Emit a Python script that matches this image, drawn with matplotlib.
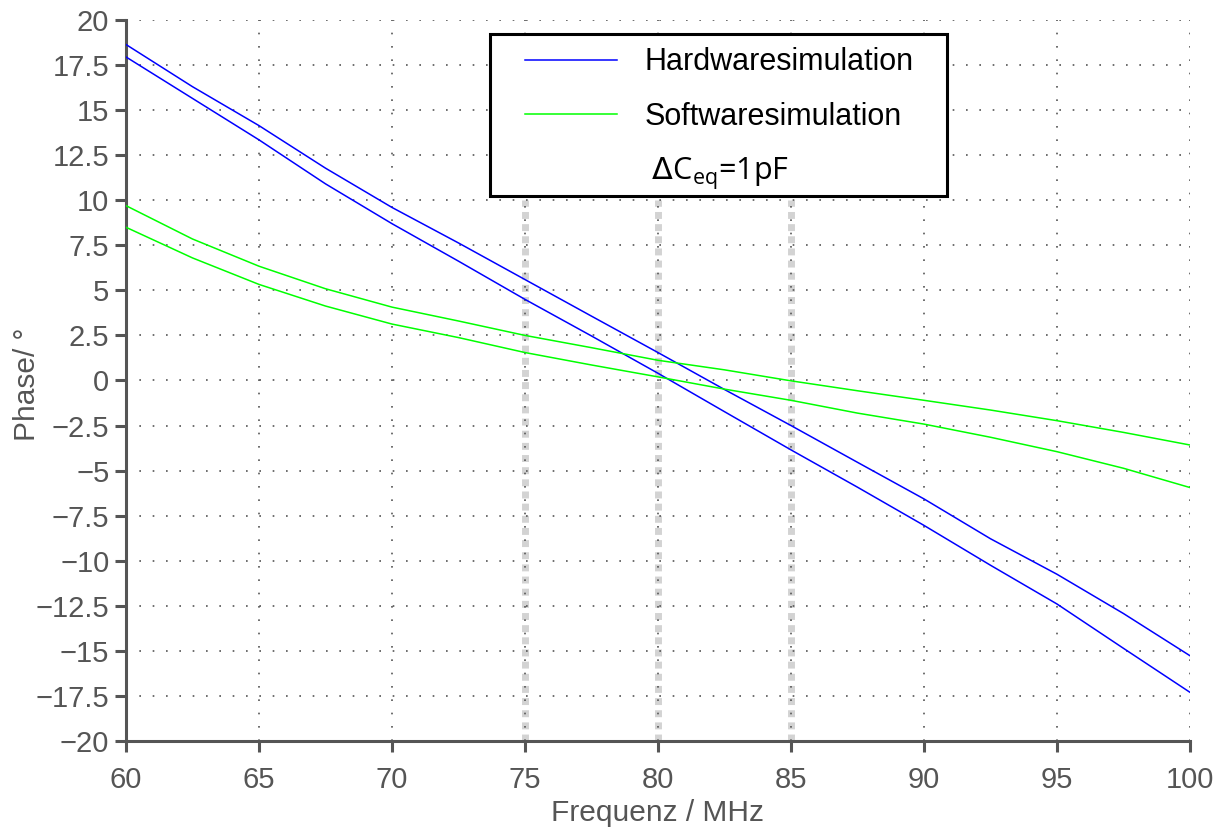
import matplotlib
matplotlib.use('Agg')
import matplotlib.pyplot as plt
from matplotlib.lines import Line2D
from matplotlib.patches import Rectangle
from matplotlib.ticker import FuncFormatter, MultipleLocator

frequenz = [60, 62.5, 65, 67.5, 70, 72.5, 75, 77.5, 80, 82.5, 85, 87.5, 90, 92.5, 95, 97.5, 100]
hw_oben = [18.64, 16.3, 14.14, 11.78, 9.6, 7.63, 5.6, 3.57, 1.55, -0.5, -2.5, -4.54, -6.57, -8.78, -10.75, -12.93, -15.27]
hw_unten = [17.95, 15.65, 13.35, 10.91, 8.7, 6.62, 4.5, 2.47, 0.4, -1.73, -3.85, -5.92, -8.04, -10.25, -12.4, -14.86, -17.3]
sw_oben = [9.7, 7.85, 6.34, 5.09, 4.07, 3.3, 2.5, 1.82, 1.12, 0.59, -0.02, -0.57, -1.1, -1.64, -2.23, -2.88, -3.58]
sw_unten = [8.5, 6.8, 5.33, 4.13, 3.13, 2.38, 1.55, 0.86, 0.2, -0.48, -1.1, -1.81, -2.42, -3.15, -3.95, -4.87, -5.94]
markierungen = [75, 80, 85]

grau = '#555555'
plt.rcParams['font.family'] = ['Liberation Sans', 'DejaVu Sans']

fig = plt.figure(figsize=(12.24, 8.32), dpi=100)
ax = fig.add_axes([0.1029, 0.1094, 0.8693, 0.8666])

# senkrechte Hilfslinien
for f in markierungen:
    ax.plot([f, f], [-20, 10], color='#d3d3d3', lw=5, linestyle=(0, (1, 0.75)), zorder=1)

h1, = ax.plot(frequenz, hw_oben, color='#0000ff', lw=1.1, zorder=3)
ax.plot(frequenz, hw_unten, color='#0000ff', lw=1.1, zorder=3)
h2, = ax.plot(frequenz, sw_oben, color='#00ff00', lw=1.1, zorder=3)
ax.plot(frequenz, sw_unten, color='#00ff00', lw=1.1, zorder=3)

ax.set_xlim(60, 100)
ax.set_ylim(-20, 20)
ax.xaxis.set_major_locator(MultipleLocator(5))
ax.yaxis.set_major_locator(MultipleLocator(2.5))
fmt = FuncFormatter(lambda v, p: ('%g' % v).replace('-', '\u2212'))
ax.yaxis.set_major_formatter(fmt)
ax.xaxis.set_major_formatter(fmt)

ax.grid(True, color=grau, lw=1.2, linestyle=(0, (1, 7)), zorder=0)
for s in ['top', 'right']:
    ax.spines[s].set_visible(False)
for s in ['left', 'bottom']:
    ax.spines[s].set_color(grau)
    ax.spines[s].set_linewidth(2.2)
ax.tick_params(direction='out', length=8, width=2.2, color=grau,
               labelcolor=grau, labelsize=21, pad=4)
ax.tick_params(axis='x', pad=10)

ax.set_xlabel('Frequenz / MHz', fontsize=21.5, color=grau)
ax.set_ylabel('Phase/ °', fontsize=21.5, color=grau)
ax.xaxis.set_label_coords(0.5, -0.08)
ax.yaxis.set_label_coords(-0.08, 0.494)

# Legendenrahmen
ax.add_patch(Rectangle((0.342, 0.756), 0.4296, 0.2245, transform=ax.transAxes,
                       facecolor='white', edgecolor='black', lw=2.2, zorder=4))

leer = Line2D([], [], color='none')
leg = ax.legend([h1, h2, leer],
                ['Hardwaresimulation', 'Softwaresimulation', r' $\Delta$C$_{\mathregular{eq}}$=1pF'],
                loc='upper left', bbox_to_anchor=(0.375, 0.962), fontsize=22,
                handlelength=3.0, handletextpad=0.9, labelspacing=0.8,
                borderpad=0, borderaxespad=0, frameon=False)
leg.set_zorder(5)
leg.get_texts()[2].set_family(['Open Sans', 'DejaVu Sans'])

plt.savefig('out.png', dpi=100)
